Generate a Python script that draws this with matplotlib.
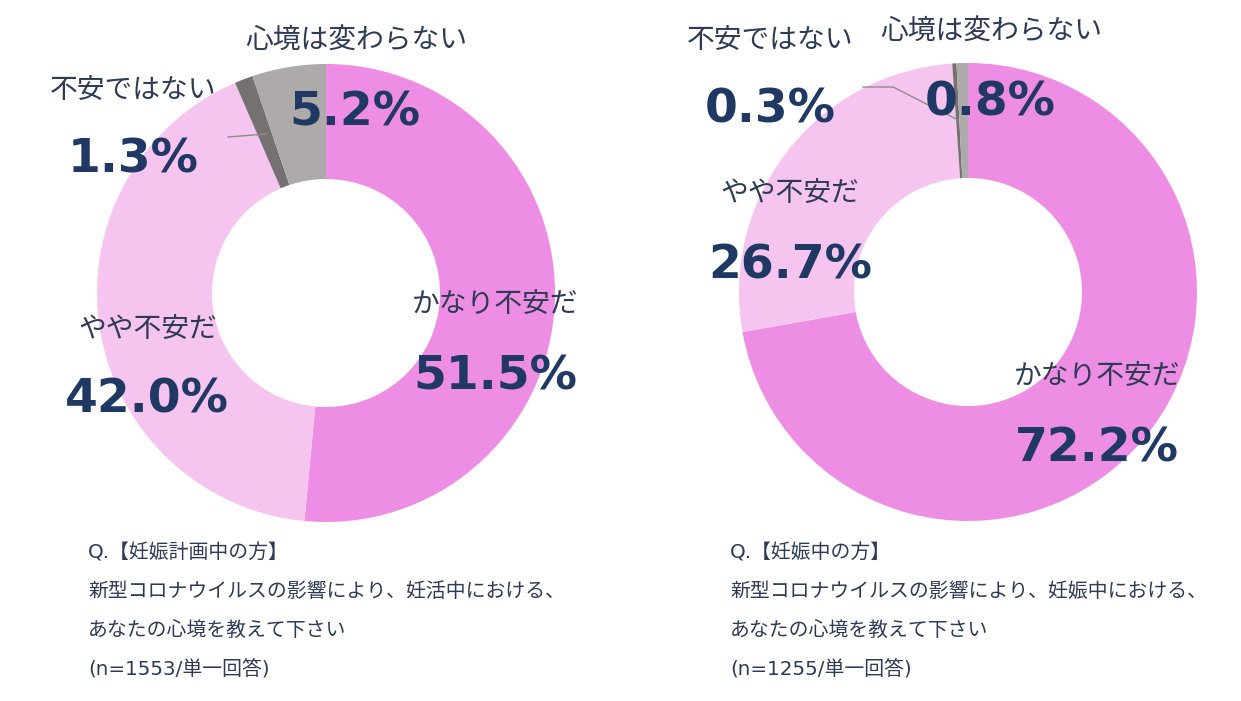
import matplotlib.pyplot as plt

plt.rcParams['font.family'] = ['Noto Sans CJK JP', 'DejaVu Sans']

W, H = 1241, 701

categories = ['かなり不安だ', 'やや不安だ', '不安ではない', '心境は変わらない']
left_values = [51.5, 42.0, 1.3, 5.2]
right_values = [72.2, 26.7, 0.3, 0.8]
colors = ['#ED8DE3', '#F5C5F0', '#767171', '#AEAAAA']

left_question = ['Q.【妊娠計画中の方】',
                 '新型コロナウイルスの影響により、妊活中における、',
                 'あなたの心境を教えて下さい',
                 '(n=1553/単一回答)']
right_question = ['Q.【妊娠中の方】',
                  '新型コロナウイルスの影響により、妊娠中における、',
                  'あなたの心境を教えて下さい',
                  '(n=1255/単一回答)']

navy = '#1F3864'
label_col = '#2F3B55'

fig = plt.figure(figsize=(W / 100, H / 100), dpi=100)
ax = fig.add_axes([0, 0, 1, 1])


def py(y):
    # pixel row (from top) -> data y
    return H - y


def donut(values, cx, cy):
    ax.pie(values, colors=colors, startangle=90, counterclock=False,
           radius=229, center=(cx, py(cy)), frame=True,
           wedgeprops=dict(width=115, linewidth=0))


donut(left_values, 326, 293)
donut(right_values, 968, 292)
ax.set_xlim(0, W)
ax.set_ylim(0, H)
ax.set_aspect('equal')
ax.axis('off')

# label xy, pct xy in pixel coords
left_pos = [((495, 304), (495, 377)),
            ((148, 329), (147, 400)),
            ((133, 90), (133, 160)),
            ((356, 40), (355, 113))]
right_pos = [((1097, 376), (1097, 449)),
             ((790, 193), (790, 266)),
             ((770, 40), (770, 110)),
             ((991, 31), (990, 103))]


def labels(values, pos):
    for name, v, (lp, pp) in zip(categories, values, pos):
        ax.text(lp[0], py(lp[1]), name, fontsize=20, color=label_col,
                ha='center', va='center')
        ax.text(pp[0], py(pp[1]), f'{v:.1f}%', fontsize=34, fontweight='bold',
                color=navy, ha='center', va='center', family='DejaVu Sans')


labels(left_values, left_pos)
labels(right_values, right_pos)

# leader lines
ax.plot([228, 266], [py(137), py(134)], color='#8C8C8C', lw=1)
ax.plot([863, 893, 958], [py(87), py(87), py(120)], color='#8C8C8C', lw=1)


def question(lines, x):
    for i, t in enumerate(lines):
        ax.text(x, py(553 + i * 38.5), t, fontsize=14.3, color=label_col,
                ha='left', va='center', family=['DejaVu Sans', 'Noto Sans CJK JP'])


question(left_question, 88)
question(right_question, 730)

fig.savefig('out.png', dpi=100)
